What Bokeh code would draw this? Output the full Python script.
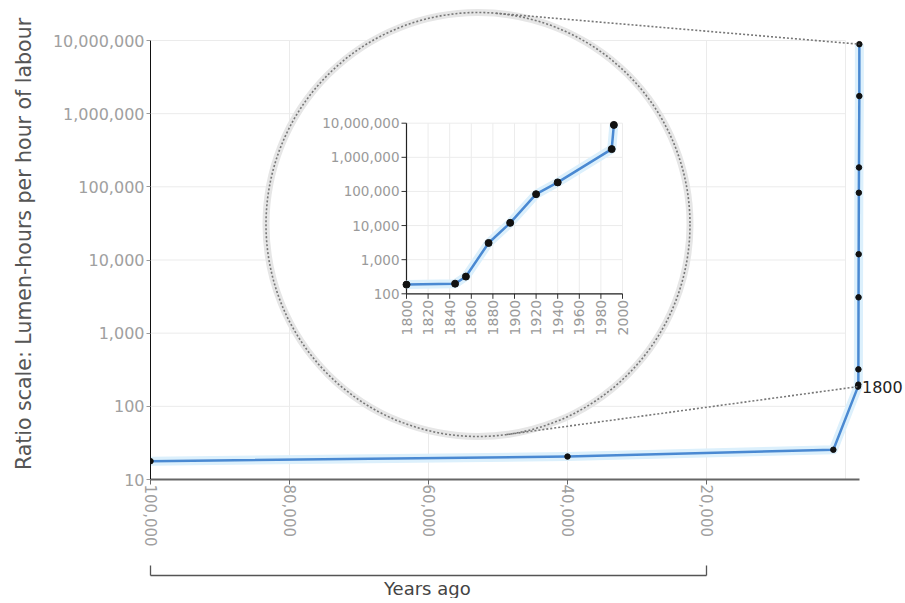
import math
from bokeh.plotting import figure
from bokeh.models import (Range1d, LinearScale, LogScale, FixedTicker, LinearAxis,
                          NumeralTickFormatter, Label, Title)
from bokeh.core.properties import value
from bokeh.embed import file_html
from bokeh.resources import INLINE

# ---------------- data ----------------
early_years = [-100000, -40000, -1750]          # calendar years (negative = BCE)
early_lumen = [17.8, 20.6, 25.5]
modern_years = [1800, 1845, 1855, 1876, 1896, 1920, 1940, 1990, 1992]
modern_lumen = [186, 198, 320, 3090, 12000, 83000, 184000, 1740000, 8900000]

main_x_ticks = [-100000, -80000, -60000, -40000, -20000]
main_x_labels = ["100,000", "80,000", "60,000", "40,000", "20,000"]
main_grid_x = [-100000, -80000, -60000, -40000, -20000, 0]
main_y_ticks = [10, 100, 1000, 10000, 100000, 1000000, 10000000]
bracket_ticks = [-100000, -20000]

inset_x_ticks = [1800, 1820, 1840, 1860, 1880, 1900, 1920, 1940, 1960, 1980, 2000]
inset_x_labels = ["1800", "1820", "1840", "1860", "1880", "1900", "1920", "1940", "1960", "1980", "2000"]
inset_y_ticks = [100, 1000, 10000, 100000, 1000000, 10000000]
inset_y_labels = ["100", "1,000", "10,000", "100,000", "1,000,000", "10,000,000"]

x_title = "Years ago"
y_title = "Ratio scale: Lumen-hours per hour of labour"
mark_label = "1800"

# ---------------- layout (page pixels) ----------------
FL, FR, FT, FB = 150, 905, 8, 479
# main calibration
MX = (-100000, 150, -20000, 706)
MY = (10, 479, 10000000, 40)
# inset calibration
IX = (1800, 406, 2000, 622)
IY = (100, 293.3, 10000000, 122.7)
CX, CY, R = 477.5, 224, 212

BLUE = "#4a89d2"
HALO = "#dcf0fc"
GRID = "#ebebeb"
FONT = "DejaVu Sans"
DOTS = "2 2"


def lin_range(c, a, b):
    v0, p0, v1, p1 = c
    k = (v1 - v0) / (p1 - p0)
    return v0 + (a - p0) * k, v0 + (b - p0) * k


def log_range(c, a, b):
    v0, p0, v1, p1 = c
    lo, hi = lin_range((math.log10(v0), p0, math.log10(v1), p1), a, b)
    return 10 ** lo, 10 ** hi


def to_px(c, v, log=False):
    v0, p0, v1, p1 = c
    if log:
        v0, v1, v = math.log10(v0), math.log10(v1), math.log10(v)
    return p0 + (v - v0) * (p1 - p0) / (v1 - v0)


xs, xe = lin_range(MX, FL, FR)
ys, ye = log_range(MY, FB, FT)
ixs, ixe = lin_range(IX, FL, FR)
iys, iye = log_range(IY, FB, FT)

p = figure(frame_width=FR - FL, frame_height=FB - FT,
           x_range=Range1d(xs, xe), y_range=Range1d(ys, ye), y_axis_type="log",
           output_backend="svg", toolbar_location=None,
           min_border_left=FL, min_border_right=0, min_border_top=FT, min_border_bottom=0,
           background_fill_color="white", border_fill_color="white")
p.outline_line_color = None

p.extra_x_ranges = {"ix": Range1d(ixs, ixe), "px": Range1d(FL, FR)}
p.extra_x_scales = {"ix": LinearScale(), "px": LinearScale()}
p.extra_y_ranges = {"iy": Range1d(iys, iye), "py": Range1d(FB, FT)}
p.extra_y_scales = {"iy": LogScale(), "py": LinearScale()}

# ---- main axes ----
ya = p.yaxis[0]
ya.ticker = FixedTicker(ticks=main_y_ticks, minor_ticks=[])
ya.formatter = NumeralTickFormatter(format="0,0")
ya.bounds = (main_y_ticks[0], main_y_ticks[-1])
ya.major_label_text_font = FONT
ya.major_label_text_font_size = "16px"
ya.major_label_text_color = "#a0a0a0"
ya.major_label_standoff = 2
ya.major_tick_out = 4
ya.major_tick_in = 0
ya.major_tick_line_color = "#999999"
ya.minor_tick_line_color = None
ya.axis_line_color = "#111111"
ya.axis_line_width = 1
ya.axis_label = y_title
ya.axis_label_text_font = FONT
ya.axis_label_text_font_size = "20.5px"
ya.axis_label_text_font_style = "normal"
ya.axis_label_text_color = "#555555"
ya.axis_label_standoff = 14

xa = p.xaxis[0]
xa.ticker = FixedTicker(ticks=main_x_ticks, minor_ticks=[])
xa.bounds = (early_years[0], modern_years[-1])
xa.major_label_overrides = {float(t): l for t, l in zip(main_x_ticks, main_x_labels)}
xa.major_label_orientation = "vertical"
xa.major_label_text_font = FONT
xa.major_label_text_font_size = "15px"
xa.major_label_text_color = "#a0a0a0"
xa.major_label_standoff = 0
xa.major_tick_out = 5
xa.major_tick_in = 0
xa.major_tick_line_color = "#666666"
xa.axis_line_color = "#666666"
xa.axis_line_width = 2
xa.axis_label = " "
xa.axis_label_text_font_size = "14px"
xa.axis_label_standoff = 7

bracket = LinearAxis(ticker=FixedTicker(ticks=bracket_ticks, minor_ticks=[]),
                     bounds=(bracket_ticks[0], bracket_ticks[-1]))
bracket.major_tick_in = 10
bracket.major_tick_out = 0
bracket.major_tick_line_color = "#555555"
bracket.major_tick_line_width = 1.3
bracket.axis_line_color = "#555555"
bracket.axis_line_width = 1.3
bracket.major_label_text_font_size = "1px"
bracket.major_label_text_alpha = 0
bracket.major_label_standoff = 0
p.add_layout(bracket, "below")

title_w = 89  # approx. rendered width of the bracket title
bracket_mid = (to_px(MX, bracket_ticks[0]) + to_px(MX, bracket_ticks[-1])) / 2
p.add_layout(Title(text=x_title, align="left", offset=bracket_mid - FL - title_w / 2,
                   text_font=FONT, text_font_size="18px", text_font_style="normal",
                   text_color="#444444", standoff=0), "below")

p.ygrid.visible = False
p.xgrid.visible = False
# grid lines
p.segment(x0=main_grid_x, x1=main_grid_x, y0=[main_y_ticks[0]] * len(main_grid_x),
          y1=[main_y_ticks[-1]] * len(main_grid_x), line_color=GRID, line_width=1)
p.segment(x0=[main_grid_x[0]] * len(main_y_ticks), x1=[main_grid_x[-1]] * len(main_y_ticks),
          y0=main_y_ticks, y1=main_y_ticks, line_color=GRID, line_width=1)

# ---- main series ----
all_years = early_years + modern_years
all_lumen = early_lumen + modern_lumen
p.line(all_years, all_lumen, line_color=HALO, line_width=9, line_join="round")
p.line(all_years, all_lumen, line_color=BLUE, line_width=2.5, line_join="round")
p.scatter(all_years, all_lumen, size=5.5, fill_color="#111111", line_color="#111111")

# ---- magnifier circle ----
p.scatter([CX], [CY], x_range_name="px", y_range_name="py", size=2 * R,
          fill_color="white", line_color="#e6e6e6", line_width=7)
p.scatter([CX], [CY], x_range_name="px", y_range_name="py", size=2 * R,
          fill_color=None, line_color="#777777", line_width=1.6, line_dash=DOTS)

# tangent connector lines
def tangent(px, py, upper):
    dx, dy = px - CX, py - CY
    d = math.hypot(dx, dy)
    a = math.acos(R / d)
    th = math.atan2(dy, dx) + (-a if upper else a)
    return CX + R * math.cos(th), CY + R * math.sin(th)

top_pt = (to_px(MX, modern_years[-1]), to_px(MY, modern_lumen[-1], log=True))
bot_pt = (to_px(MX, modern_years[0]), to_px(MY, modern_lumen[0], log=True))
t1 = tangent(*top_pt, True)
t2 = tangent(*bot_pt, False)
p.segment(x0=[t1[0], t2[0]], y0=[t1[1], t2[1]], x1=[top_pt[0], bot_pt[0]], y1=[top_pt[1], bot_pt[1]],
          x_range_name="px", y_range_name="py", line_color="#777777", line_width=1.6,
          line_dash=DOTS)

# ---- inset ----
ix0, ix1 = inset_x_ticks[0], inset_x_ticks[-1]
iy0, iy1 = inset_y_ticks[0], inset_y_ticks[-1]
kw = dict(x_range_name="ix", y_range_name="iy")
p.segment(x0=inset_x_ticks, x1=inset_x_ticks, y0=[iy0] * len(inset_x_ticks), y1=[iy1] * len(inset_x_ticks),
          line_color="#ececec", line_width=1, **kw)
p.segment(x0=[ix0] * len(inset_y_ticks), x1=[ix1] * len(inset_y_ticks), y0=inset_y_ticks, y1=inset_y_ticks,
          line_color="#ececec", line_width=1, **kw)
ipx_per_year = (IX[3] - IX[1]) / (IX[2] - IX[0])
ipx_per_dec = (IY[1] - IY[3]) / (math.log10(IY[2]) - math.log10(IY[0]))
tick_len = 5
p.segment(x0=[ix0 - tick_len / ipx_per_year] * len(inset_y_ticks), x1=[ix0] * len(inset_y_ticks),
          y0=inset_y_ticks, y1=inset_y_ticks, line_color="#333333", line_width=1, **kw)
p.segment(x0=inset_x_ticks, x1=inset_x_ticks, y0=[iy0] * len(inset_x_ticks),
          y1=[iy0 * 10 ** (-tick_len / ipx_per_dec)] * len(inset_x_ticks),
          line_color="#333333", line_width=1, **kw)
p.segment(x0=[ix0, ix0], x1=[ix0, ix1], y0=[iy0, iy0], y1=[iy1, iy0],
          line_color="#222222", line_width=1.2, **kw)
p.text(x=[ix0] * len(inset_y_ticks), y=inset_y_ticks, text=inset_y_labels, x_offset=-7,
       text_align="right", text_baseline="middle", text_font=value(FONT),
       text_font_size="13.5px", text_color="#9a9a9a", **kw)
p.text(x=inset_x_ticks, y=[iy0] * len(inset_x_ticks), text=inset_x_labels, y_offset=6,
       angle=math.pi / 2, text_align="right", text_baseline="middle", text_font=value(FONT),
       text_font_size="14px", text_color="#9a9a9a", **kw)
p.line(modern_years, modern_lumen, line_color=HALO, line_width=9, line_join="round", **kw)
p.line(modern_years, modern_lumen, line_color=BLUE, line_width=2.5, line_join="round", **kw)
p.scatter(modern_years, modern_lumen, size=7, fill_color="#111111", line_color="#111111", **kw)

p.add_layout(Label(x=modern_years[0], y=modern_lumen[0], text=mark_label, x_offset=4,
                   text_baseline="middle", text_font=FONT, text_font_size="16px",
                   text_color="#222222"))

open("out.html", "w").write(file_html(p, INLINE))
